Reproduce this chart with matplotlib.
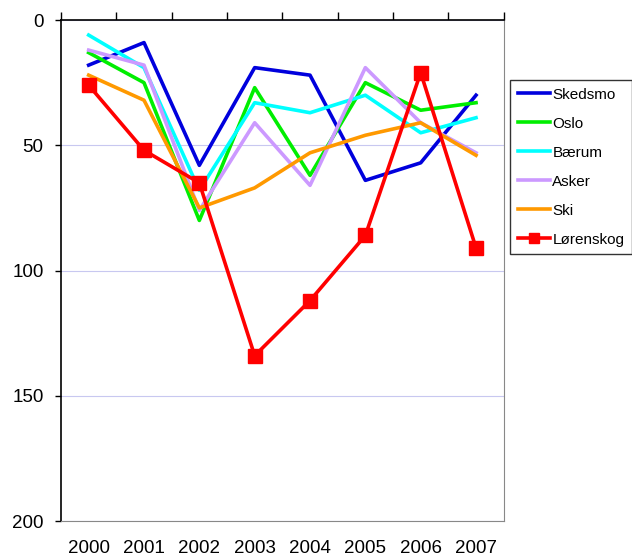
import matplotlib.pyplot as plt
import numpy as np

plt.rcParams['font.family'] = ['Liberation Sans', 'DejaVu Sans']

years = ['2000', '2001', '2002', '2003', '2004', '2005', '2006', '2007']
skedsmo = [18, 9, 58, 19, 22, 64, 57, 30]
oslo = [13, 25, 80, 27, 62, 25, 36, 33]
baerum = [6, 19, 68, 33, 37, 30, 45, 39]
asker = [12, 18, 76, 41, 66, 19, 41, 53]
ski = [22, 32, 75, 67, 53, 46, 41, 54]
lorenskog = [26, 52, 65, 134, 112, 86, 21, 91]

fig = plt.figure(figsize=(6.32, 5.6), dpi=100)
ax = fig.add_axes([0.0965, 0.0696, 0.7005, 0.8946])

x = np.arange(len(years))
lw = 2.6
ax.plot(x, skedsmo, color='#0000dd', lw=lw, label='Skedsmo')
ax.plot(x, oslo, color='#00ee00', lw=lw, label='Oslo')
ax.plot(x, baerum, color='#00ffff', lw=lw, label='Bærum')
ax.plot(x, asker, color='#cc99ff', lw=lw, label='Asker')
ax.plot(x, ski, color='#ff9900', lw=lw, label='Ski')
ax.plot(x, lorenskog, color='#ff0000', lw=lw, marker='s', ms=10.5,
        label='Lørenskog')

ax.set_xlim(-0.5, len(years) - 0.5)
ax.set_ylim(200, 0)
ax.set_yticks([0, 50, 100, 150, 200])
ax.yaxis.grid(True, color='#c8c8f0', lw=0.8)
ax.set_axisbelow(True)

# category boundaries as ticks on top, year labels centred at bottom
ax.set_xticks(np.arange(len(years) + 1) - 0.5)
ax.set_xticks(x, minor=True)
ax.set_xticklabels(years, minor=True)
ax.tick_params(axis='x', which='major', top=True, bottom=False,
               labelbottom=False, labeltop=False, length=6, width=1)
ax.tick_params(axis='x', which='minor', length=0, pad=14, labelsize=13.5)
ax.tick_params(axis='y', length=4.5, width=1, labelsize=13.5, pad=8)

ax.spines['right'].set_color('#888888')
ax.spines['bottom'].set_color('#888888')
ax.spines['left'].set_linewidth(1.2)
ax.spines['top'].set_linewidth(1.2)

leg = ax.legend(loc='upper left', bbox_to_anchor=(1.015, 0.88),
                fontsize=11, frameon=True, fancybox=False,
                handlelength=2.1, handletextpad=0.15, labelspacing=0.98,
                borderaxespad=0, borderpad=0.5, markerscale=0.7)
leg.get_frame().set_edgecolor('black')
leg.get_frame().set_linewidth(1)

plt.savefig('out.png', dpi=100)
